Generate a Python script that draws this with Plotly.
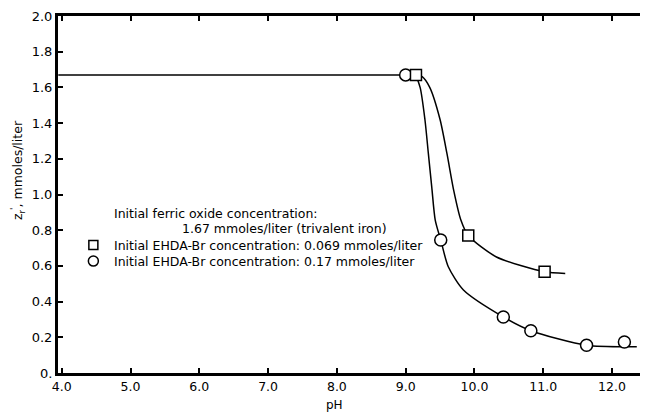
import plotly.graph_objects as go

# Measured points
ph_sq = [9.15, 9.91, 11.02]
z_sq = [1.67, 0.77, 0.567]
ph_ci = [9.0, 9.51, 10.42, 10.82, 11.63, 12.18]
z_ci = [1.67, 0.745, 0.314, 0.237, 0.155, 0.174]

# Hand-drawn smooth curves
curve_flat_x = [3.95, 9.0]
curve_flat_y = [1.67, 1.67]
curve_ci_x = [9.0, 9.14, 9.21, 9.28, 9.33, 9.38, 9.43, 9.51, 9.62, 9.84, 10.42, 10.82, 11.63, 12.36]
curve_ci_y = [1.67, 1.665, 1.60, 1.42, 1.23, 1.04, 0.857, 0.745, 0.595, 0.465, 0.314, 0.237, 0.155, 0.147]
curve_sq_x = [9.15, 9.24, 9.35, 9.50, 9.60, 9.70, 9.80, 9.91, 10.32, 11.02, 11.32]
curve_sq_y = [1.67, 1.66, 1.60, 1.42, 1.23, 1.02, 0.86, 0.77, 0.65, 0.567, 0.558]

x_ticks = [4, 5, 6, 7, 8, 9, 10, 11, 12]
x_ticktext = ["4.0", "5.0", "6.0", "7.0", "8.0", "9.0", "10.0", "11.0", "12.0"]
y_ticks = [0, 0.2, 0.4, 0.6, 0.8, 1.0, 1.2, 1.4, 1.6, 1.8, 2.0]
y_ticktext = ["0.", "0.2", "0.4", "0.6", "0.8", "1.0", "1.2", "1.4", "1.6", "1.8", "2.0"]

FONT = "DejaVu Sans"
line = dict(color="black", width=1.5)

fig = go.Figure()
fig.add_trace(go.Scatter(x=curve_flat_x, y=curve_flat_y, mode="lines", line=line, showlegend=False))
fig.add_trace(go.Scatter(x=curve_ci_x, y=curve_ci_y, mode="lines", line=dict(line, shape="spline", smoothing=0.7), showlegend=False))
fig.add_trace(go.Scatter(x=curve_sq_x, y=curve_sq_y, mode="lines", line=dict(line, shape="spline", smoothing=0.7), showlegend=False))
fig.add_trace(go.Scatter(x=ph_ci, y=z_ci, mode="markers", showlegend=False,
                         marker=dict(symbol="circle", size=12, color="white", line=dict(color="black", width=1.5))))
fig.add_trace(go.Scatter(x=ph_sq, y=z_sq, mode="markers", showlegend=False,
                         marker=dict(symbol="square", size=11, color="white", line=dict(color="black", width=1.5))))

# Key symbols
fig.add_trace(go.Scatter(x=[4.46], y=[0.717], mode="markers", showlegend=False,
                         marker=dict(symbol="square", size=9, color="white", line=dict(color="black", width=1.5))))
fig.add_trace(go.Scatter(x=[4.46], y=[0.627], mode="markers", showlegend=False,
                         marker=dict(symbol="circle", size=10, color="white", line=dict(color="black", width=1.5))))

texts = [
    (4.73, 0.896, "Initial ferric oxide concentration:"),
    (5.72, 0.812, "1.67 mmoles/liter (trivalent iron)"),
    (4.73, 0.717, "Initial EHDA-Br concentration: 0.069 mmoles/liter"),
    (4.73, 0.627, "Initial EHDA-Br concentration: 0.17 mmoles/liter"),
]
for x, y, t in texts:
    fig.add_annotation(x=x, y=y, text=t, showarrow=False, xanchor="left", yanchor="middle",
                       font=dict(family=FONT, size=12.5, color="black"))

fig.add_annotation(x=7.97, y=0.0, text="pH", showarrow=False, yanchor="middle", yshift=-32,
                   font=dict(family=FONT, size=12, color="black"))
fig.add_annotation(x=0, xref="paper", y=1.137, text="z<sub>r</sub><sup>'</sup>, mmoles/liter",
                   textangle=-90, showarrow=False, xanchor="center", yanchor="middle", xshift=-40,
                   font=dict(family=FONT, size=12.5, color="black"))

fig.update_layout(
    width=640, height=412,
    margin=dict(l=50, r=2, t=8, b=47),
    plot_bgcolor="white", paper_bgcolor="white",
    font=dict(family=FONT, color="black"),
    xaxis=dict(range=[3.946, 12.494], tickvals=x_ticks, ticktext=x_ticktext, ticks="inside", ticklen=5,
               tickwidth=1.5, tickcolor="black", showline=True, linewidth=3, linecolor="black", mirror="ticks",
               showgrid=False, zeroline=False, automargin=False,
               tickfont=dict(family=FONT, size=12.5, color="black")),
    yaxis=dict(range=[0, 2.0], tickvals=y_ticks, ticktext=y_ticktext, ticks="inside", ticklen=5,
               tickwidth=1.5, tickcolor="black", showline=True, linewidth=3, linecolor="black",
               showgrid=False, zeroline=False, automargin=False,
               tickfont=dict(family=FONT, size=13, color="black")),
    yaxis2=dict(range=[0, 2.0], overlaying="y", side="right", tickvals=y_ticks, showticklabels=False,
                ticks="inside", ticklen=5, tickwidth=1.5, tickcolor="black", showline=True, linewidth=1.5,
                linecolor="black", showgrid=False, zeroline=False, automargin=False),
)
fig.add_trace(go.Scatter(x=[None], y=[None], yaxis="y2", showlegend=False))

fig.write_html("out.html")
